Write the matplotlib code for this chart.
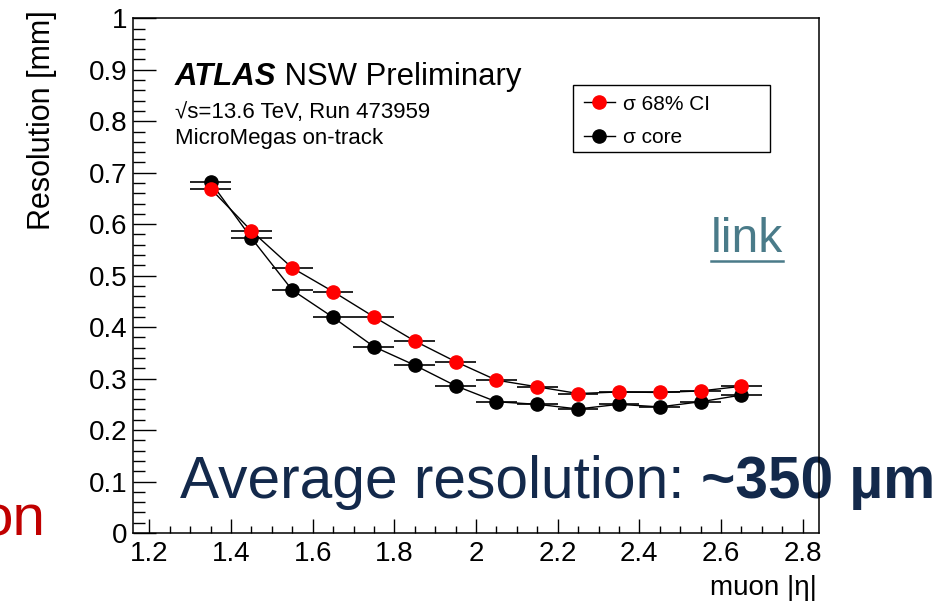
import numpy as np
import matplotlib
matplotlib.use("Agg")
import matplotlib.pyplot as plt
from matplotlib.ticker import MultipleLocator, FuncFormatter
from matplotlib.patches import Rectangle
from matplotlib.lines import Line2D

plt.rcParams['font.family'] = ['Liberation Sans', 'DejaVu Sans']

# muon |eta| bin centres and half widths
eta = [1.35, 1.45, 1.55, 1.65, 1.75, 1.85, 1.95, 2.05, 2.15, 2.25, 2.35, 2.45, 2.55, 2.65]
eta_err = [0.05] * 14
# resolution in mm
sigma_ci68 = [0.669, 0.587, 0.515, 0.469, 0.420, 0.373, 0.333, 0.297, 0.284, 0.271, 0.274, 0.273, 0.276, 0.285]
sigma_core = [0.682, 0.573, 0.472, 0.419, 0.362, 0.326, 0.286, 0.255, 0.250, 0.241, 0.250, 0.245, 0.255, 0.268]

W, H = 942, 601
def px(x, y):
    return x / W, 1 - y / H

fig = plt.figure(figsize=(W / 100, H / 100), dpi=100)
ax = fig.add_axes([133 / W, 68 / H, (819 - 133) / W, (533 - 18.3) / H])

for y, col in [(sigma_core, 'black'), (sigma_ci68, 'red')]:
    ax.errorbar(eta, y, xerr=eta_err, fmt='none', ecolor='black', elinewidth=1.2, capsize=0, zorder=2)
    ax.plot(eta, y, color='black', lw=1.0, marker='o', ms=9.5, mfc=col, mec=col, zorder=3)

ax.set_xlim(1.16, 2.84)
ax.set_ylim(0, 1)
ax.xaxis.set_major_locator(MultipleLocator(0.2))
ax.xaxis.set_minor_locator(MultipleLocator(0.05))
ax.yaxis.set_major_locator(MultipleLocator(0.1))
ax.yaxis.set_minor_locator(MultipleLocator(0.02))
fmt = FuncFormatter(lambda v, p: '%g' % round(v, 3))
ax.xaxis.set_major_formatter(fmt)
ax.yaxis.set_major_formatter(fmt)
ax.tick_params(axis='both', which='both', direction='in', top=False, right=False, width=1.0, labelsize=20)
ax.tick_params(axis='y', which='major', length=16.3, pad=4)
ax.tick_params(axis='y', which='minor', length=8.4)
ax.tick_params(axis='x', which='major', length=10, pad=6)
ax.tick_params(axis='x', which='minor', length=5)
for s in ax.spines.values():
    s.set_linewidth(1.1)
    s.set_zorder(6)

# axis titles
fig.text(*px(42, 10), 'Resolution [mm]', rotation=90, ha='center', va='top', fontsize=22)
fig.text(*px(817, 595), 'muon |η|', ha='right', va='baseline', fontsize=20)

# labels
t = fig.text(*px(175, 85), 'ATLAS', fontsize=22.4, fontweight='bold', fontstyle='italic', va='baseline')
ax.annotate(' NSW Preliminary', xy=(1, 0), xycoords=t, va='bottom', ha='left', fontsize=22.4)
fig.text(*px(175, 118), '√s=13.6 TeV, Run 473959', fontsize=16, va='baseline')
fig.text(*px(175, 144), 'MicroMegas on-track', fontsize=16, va='baseline')

# legend box
x0, y0 = px(573, 152)
x1, y1 = px(770, 85)
fig.patches.append(Rectangle((x0, y0), x1 - x0, y1 - y0, transform=fig.transFigure,
                             fill=True, facecolor='white', edgecolor='black', lw=1.0, zorder=5))
handles = [Line2D([], [], color='black', lw=1.0, marker='o', ms=9.5, mfc='red', mec='red'),
           Line2D([], [], color='black', lw=1.0, marker='o', ms=9.5, mfc='black', mec='black')]
leg = fig.legend(handles, ['σ 68% CI', 'σ core'], loc='upper left', bbox_to_anchor=px(569, 80),
                 frameon=False, fontsize=15, handlelength=1.5, handletextpad=0.4,
                 labelspacing=0.69, borderpad=0.2)
leg.set_zorder(7)

# overlay text
navy = '#13294b'
t1 = fig.text(*px(180, 498), 'Average resolution: ', fontsize=42.2, color=navy, va='baseline', zorder=4)
ax.annotate('~350 µm', xy=(1, 0), xycoords=t1, va='bottom', ha='left', fontsize=42.2,
            fontweight='bold', color=navy, zorder=4, annotation_clip=False)
fig.text(*px(45, 535), 'on', fontsize=42, color='#c00000', ha='right', va='baseline')

tl = fig.text(*px(711, 252), 'link', fontsize=34.5, color='#4a7b89', va='baseline')
fig.canvas.draw()
bb = tl.get_window_extent().transformed(fig.transFigure.inverted())
uy = px(0, 261)[1]
fig.add_artist(Line2D([bb.x0, bb.x1], [uy, uy], transform=fig.transFigure, color='#4a7b89', lw=1.8))

fig.savefig('out.png', dpi=100)
